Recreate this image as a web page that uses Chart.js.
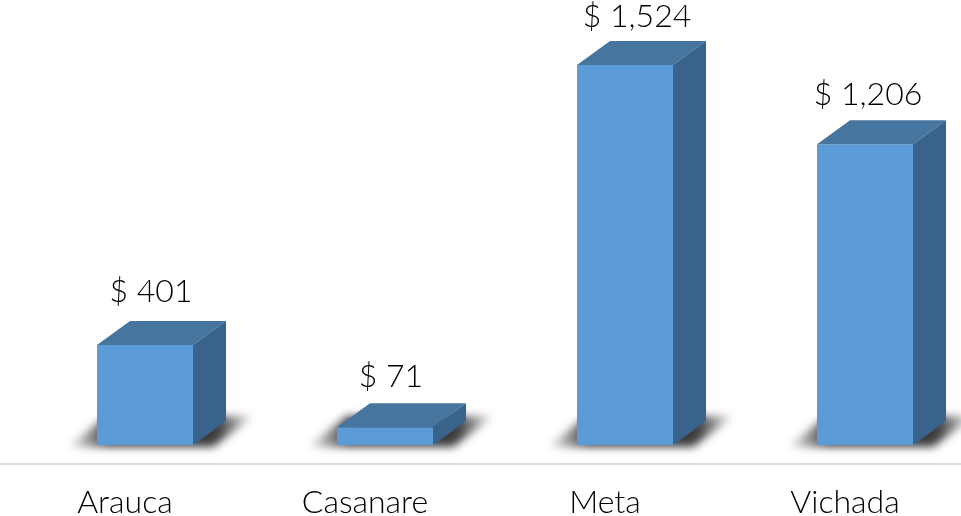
<!DOCTYPE html>
<html>
<head>
<meta charset="utf-8">
<style>
    html, body { margin: 0; padding: 0; background: #fff; overflow: hidden; width: 961px; height: 516px; }
    canvas { display: block; }
</style>
<script src="https://cdn.jsdelivr.net/npm/chart.js@4/dist/chart.umd.min.js"></script>
</head>
<body>
<canvas id="chart" width="985" height="516"></canvas>
<script>
const departments = ['Arauca', 'Casanare', 'Meta', 'Vichada'];
const amounts = [401, 71, 1524, 1206];
const amountLabels = ['$ 401', '$ 71', '$ 1,524', '$ 1,206'];

// nudges for the value labels, the original ones are not quite centered
const labelShiftX = [6, 6, 12, 3];
const labelShiftY = [-29, -27, -24, -26];

const FONT_FAMILY = 'Lato, "Open Sans", sans-serif';
const DEPTH_X = 33;
const DEPTH_Y = 24;

// Floor shadow under each block
const floorShadow = {
    id: 'floorShadow',
    beforeDatasetsDraw(chart) {
        const ctx = chart.ctx;
        chart.getDatasetMeta(0).data.forEach(bar => {
            const left = bar.x - bar.width / 2;
            const right = bar.x + bar.width / 2;
            const base = bar.base;
            ctx.save();
            ctx.filter = 'blur(4px)';
            const grad = ctx.createLinearGradient(left - 30, 0, right + 62, 0);
            grad.addColorStop(0, 'rgba(50,50,50,0)');
            grad.addColorStop(0.22, 'rgba(50,50,50,0.95)');
            grad.addColorStop(0.8, 'rgba(50,50,50,0.95)');
            grad.addColorStop(1, 'rgba(50,50,50,0)');
            ctx.fillStyle = grad;
            ctx.beginPath();
            ctx.moveTo(left - 30, base + 2);
            ctx.lineTo(right + 20, base + 2);
            ctx.lineTo(right + 62, base - 29);
            ctx.lineTo(left + 10, base - 29);
            ctx.closePath();
            ctx.fill();
            ctx.restore();
        });
    }
};

// Top and side faces, plus the value labels
const blockFaces = {
    id: 'blockFaces',
    afterDatasetsDraw(chart) {
        const ctx = chart.ctx;
        chart.getDatasetMeta(0).data.forEach((bar, i) => {
            const left = bar.x - bar.width / 2;
            const right = bar.x + bar.width / 2;
            const top = bar.y;
            const base = bar.base;

            ctx.fillStyle = '#46759F';
            ctx.beginPath();
            ctx.moveTo(left, top);
            ctx.lineTo(left + DEPTH_X, top - DEPTH_Y);
            ctx.lineTo(right + DEPTH_X, top - DEPTH_Y);
            ctx.lineTo(right, top);
            ctx.closePath();
            ctx.fill();

            ctx.fillStyle = '#39638A';
            ctx.beginPath();
            ctx.moveTo(right, top);
            ctx.lineTo(right + DEPTH_X, top - DEPTH_Y);
            ctx.lineTo(right + DEPTH_X, base - DEPTH_Y);
            ctx.lineTo(right, base);
            ctx.closePath();
            ctx.fill();

            ctx.fillStyle = '#000';
            ctx.font = '300 32px ' + FONT_FAMILY;
            ctx.textAlign = 'center';
            ctx.textBaseline = 'middle';
            ctx.fillText(amountLabels[i], bar.x + labelShiftX[i], top - DEPTH_Y + labelShiftY[i]);
        });

        // Axis rule runs the whole width of the page
        const y = chart.scales.x.top;
        ctx.strokeStyle = '#D9D9D9';
        ctx.lineWidth = 2;
        ctx.beginPath();
        ctx.moveTo(0, y);
        ctx.lineTo(961, y);
        ctx.stroke();
    }
};

new Chart(document.getElementById('chart'), {
    type: 'bar',
    data: {
        labels: departments,
        datasets: [{
            data: amounts,
            backgroundColor: '#5B9BD7',
            barPercentage: 0.4,
            categoryPercentage: 1
        }]
    },
    options: {
        responsive: false,
        animation: false,
        layout: { padding: { left: 25, right: 0, top: 0, bottom: 0 } },
        plugins: {
            legend: { display: false },
            title: { display: false },
            tooltip: { enabled: false }
        },
        scales: {
            x: {
                afterFit(scale) { scale.height = 52; },
                grid: { display: false, drawBorder: false },
                border: { display: false },
                ticks: {
                    color: '#000',
                    font: { family: FONT_FAMILY, size: 32, weight: '300' },
                    padding: 11,
                    labelOffset: -20,
                    maxRotation: 0
                }
            },
            y: { display: false, min: -76, max: 1785 }
        }
    },
    plugins: [floorShadow, blockFaces]
});
</script>
</body>
</html>
